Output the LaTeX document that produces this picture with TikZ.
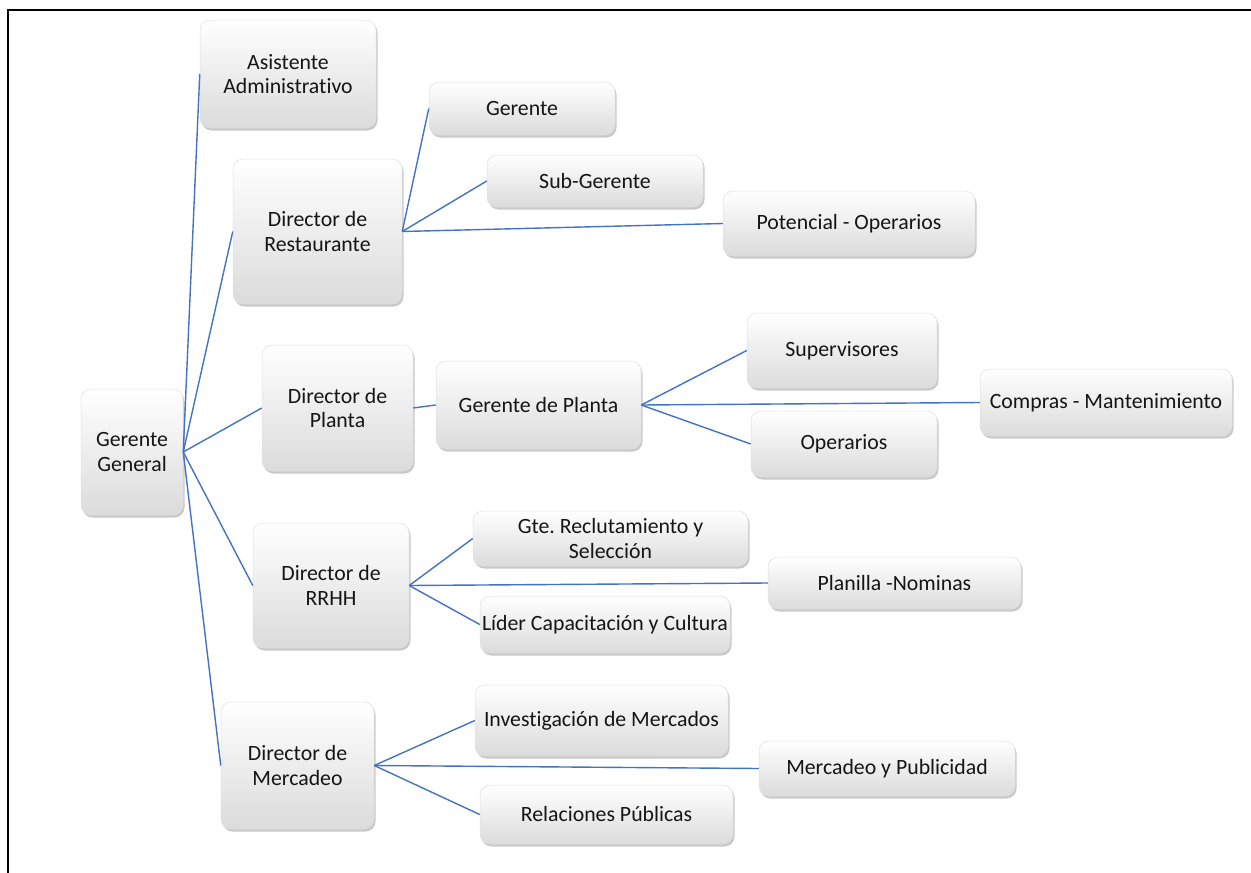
\documentclass[tikz,border=0pt]{standalone}
\usepackage{fontspec}
\setmainfont[Ligatures={NoCommon}]{Carlito}
\usetikzlibrary{shadows}
\definecolor{linkblue}{HTML}{4472C4}
\definecolor{txt}{HTML}{151515}
\frenchspacing
\begin{document}
\begin{tikzpicture}[x=1pt,y=-1pt,
  orgbox/.style={rectangle, rounded corners=10pt, inner sep=0pt, align=center,
    top color=white, bottom color=black!14, draw=black!12, line width=0.5pt,
    drop shadow={shadow xshift=1.5pt, shadow yshift=-2.5pt, opacity=0.35, fill=black!60},
    font=\fontsize{21.8}{24.5}\selectfont, text=txt},
  link/.style={draw=linkblue, line width=1.4pt}]
\useasboundingbox (0,0) rectangle (1251,873);
\fill[white] (0,0) rectangle (1251,873);
\draw[line width=2.2pt, black] (8,873) -- (8,10) -- (1251,10);

% level 1
\node[orgbox, minimum width=102pt, minimum height=126pt] (gg) at (132,452) {Gerente\\General};
% level 2
\node[orgbox, minimum width=176pt, minimum height=108pt] (asis) at (288,74) {Asistente\\Administrativo};
\node[orgbox, minimum width=169pt, minimum height=145pt] (rest) at (317.5,231.5) {Director de\\Restaurante};
\node[orgbox, minimum width=151pt, minimum height=126pt] (dpl) at (337.5,408) {Director de\\Planta};
\node[orgbox, minimum width=156pt, minimum height=125pt] (rrhh) at (331,585.5) {Director de\\RRHH};
\node[orgbox, minimum width=153pt, minimum height=127pt] (dme) at (297.5,765.5) {Director de\\Mercadeo};
% restaurante
\node[orgbox, minimum width=186pt, minimum height=53pt] (ger) at (522,108.5) {Gerente};
\node[orgbox, minimum width=216pt, minimum height=52pt] (sub) at (595,181) {Sub-Gerente};
\node[orgbox, minimum width=252pt, minimum height=65pt] (pot) at (849,223.5) {Potencial - Operarios};
% planta
\node[orgbox, minimum width=205pt, minimum height=88pt] (gpl) at (538.5,405) {Gerente de Planta};
\node[orgbox, minimum width=190pt, minimum height=75pt] (sup) at (842,350.5) {Supervisores};
\node[orgbox, minimum width=186pt, minimum height=66pt] (ope) at (844,444) {Operarios};
\node[orgbox, minimum width=252pt, minimum height=67pt] (com) at (1106,402.5) {Compras - Mantenimiento};
% rrhh
\node[orgbox, minimum width=275pt, minimum height=55pt] (gte) at (610.5,538.5) {Gte. Reclutamiento y\\Selección};
\node[orgbox, minimum width=253pt, minimum height=52pt] (pla) at (894.5,583) {Planilla -Nominas};
\node[orgbox, minimum width=250pt, minimum height=57pt] (lid) at (605,624.5) {Líder Capacitación y Cultura};
% mercadeo
\node[orgbox, minimum width=253pt, minimum height=71pt] (inv) at (601.5,720.5) {Investigación de Mercados};
\node[orgbox, minimum width=256pt, minimum height=55pt] (mpu) at (887,768.5) {Mercadeo y Publicidad};
\node[orgbox, minimum width=253pt, minimum height=59pt] (rel) at (606.5,814.5) {Relaciones Públicas};

% connectors
\foreach \d in {asis,rest,dpl,rrhh,dme} \draw[link] (gg.east) -- (\d.west);
\foreach \c in {ger,sub,pot} \draw[link] (rest.east) -- (\c.west);
\draw[link] (dpl.east) -- (gpl.west);
\foreach \c in {sup,com,ope} \draw[link] (gpl.east) -- (\c.west);
\foreach \c in {gte,pla,lid} \draw[link] (rrhh.east) -- (\c.west);
\foreach \c in {inv,mpu,rel} \draw[link] (dme.east) -- (\c.west);
\end{tikzpicture}
\end{document}
